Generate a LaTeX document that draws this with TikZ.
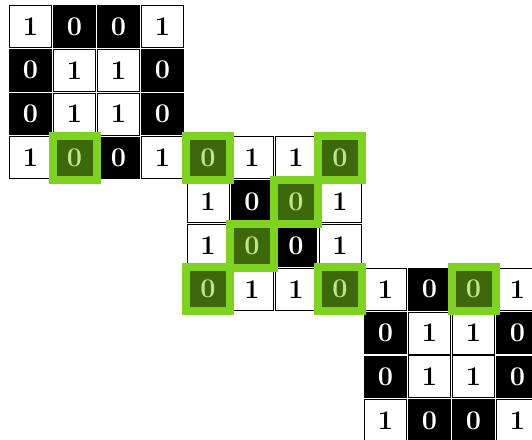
\documentclass[tikz,border=0pt]{standalone}
\usepackage{fontspec}
\usepackage{xcolor}
\definecolor{hlgreen}{HTML}{7ED321}
\definecolor{hldark}{HTML}{3F670C}
\definecolor{hltext}{HTML}{B8E986}
\tikzset{
  cellbase/.style={minimum width=42pt, minimum height=42pt, inner sep=0pt, outer sep=0pt,
    font=\fontsize{27}{27}\selectfont\bfseries, anchor=center},
  v1/.style={cellbase, draw=black, line width=0.9pt, fill=white, text=black},
  v0/.style={cellbase, minimum width=42.6pt, minimum height=42.6pt, fill=black, text=white},
  hl/.style={cellbase, minimum width=44pt, minimum height=44pt, draw=hlgreen, line width=8pt, fill=hldark, text=hltext}
}
\begin{document}
\begin{tikzpicture}[x=1pt,y=-1pt]
\useasboundingbox (0,0) rectangle (532,439);
\clip (0,0) rectangle (532,439);
% grid 1
\foreach \r [count=\i from 0] in {{1,0,0,1},{0,1,1,0},{0,1,1,0},{1,0,0,1}} {
  \foreach \v [count=\j from 0] in \r {
    \node[v\v] (ga-\i-\j) at ({30.5+44*\j},{26.5+43.8*\i}) {\v};
  }
}
% grid 2
\foreach \r [count=\i from 0] in {{0,1,1,0},{1,0,0,1},{1,0,0,1},{0,1,1,0}} {
  \foreach \v [count=\j from 0] in \r {
    \node[v\v] (gb-\i-\j) at ({208+44*\j},{157.9+43.8*\i}) {\v};
  }
}
% grid 3
\foreach \r [count=\i from 0] in {{1,0,0,1},{0,1,1,0},{0,1,1,0},{1,0,0,1}} {
  \foreach \v [count=\j from 0] in \r {
    \node[v\v] (gc-\i-\j) at ({385.5+44*\j},{289.3+43.8*\i}) {\v};
  }
}
% highlights
\node[hl] (ha) at (ga-3-1.center) {0};
\node[hl] (hb1) at (gb-0-0.center) {0};
\node[hl] (hb2) at (gb-0-3.center) {0};
\node[hl] (hb3) at (gb-1-2.center) {0};
\node[hl] (hb4) at (gb-2-1.center) {0};
\node[hl] (hb5) at (gb-3-0.center) {0};
\node[hl] (hb6) at (gb-3-3.center) {0};
\node[hl] (hc) at (gc-0-2.center) {0};
\end{tikzpicture}
\end{document}
